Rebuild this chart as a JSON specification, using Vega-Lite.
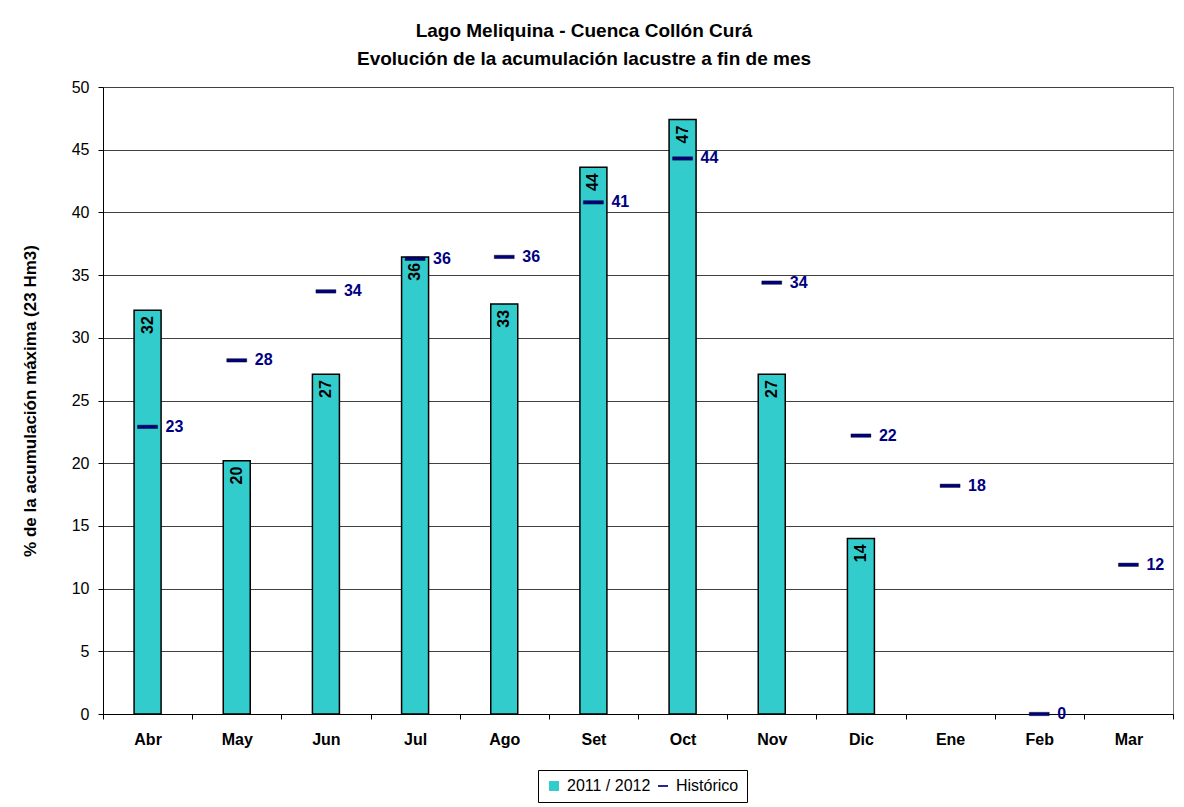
{
  "$schema": "https://vega.github.io/schema/vega-lite/v6.json",
  "width": 1070,
  "height": 627,
  "autosize": {"type": "none"},
  "padding": {"left": 103, "top": 87, "right": 11, "bottom": 93},
  "background": "white",
  "title": {
    "text": ["Lago Meliquina - Cuenca Collón Curá", "Evolución de la acumulación lacustre a fin de mes"],
    "font": "Liberation Sans",
    "fontSize": 19,
    "fontWeight": "bold",
    "color": "black",
    "lineHeight": 28,
    "anchor": "middle",
    "dx": -54,
    "offset": 10
  },
  "config": {
    "view": {"stroke": "#808080", "strokeWidth": 1},
    "font": "Liberation Sans"
  },
  "data": {
    "values": [
      {"mes": "Abr", "serie": "2011 / 2012", "valor": 32.2},
      {"mes": "May", "serie": "2011 / 2012", "valor": 20.2},
      {"mes": "Jun", "serie": "2011 / 2012", "valor": 27.1},
      {"mes": "Jul", "serie": "2011 / 2012", "valor": 36.45},
      {"mes": "Ago", "serie": "2011 / 2012", "valor": 32.7},
      {"mes": "Set", "serie": "2011 / 2012", "valor": 43.6},
      {"mes": "Oct", "serie": "2011 / 2012", "valor": 47.4},
      {"mes": "Nov", "serie": "2011 / 2012", "valor": 27.1},
      {"mes": "Dic", "serie": "2011 / 2012", "valor": 14.0},
      {"mes": "Abr", "serie": "Histórico", "valor": 22.9},
      {"mes": "May", "serie": "Histórico", "valor": 28.2},
      {"mes": "Jun", "serie": "Histórico", "valor": 33.7},
      {"mes": "Jul", "serie": "Histórico", "valor": 36.3},
      {"mes": "Ago", "serie": "Histórico", "valor": 36.45},
      {"mes": "Set", "serie": "Histórico", "valor": 40.8},
      {"mes": "Oct", "serie": "Histórico", "valor": 44.3},
      {"mes": "Nov", "serie": "Histórico", "valor": 34.4},
      {"mes": "Dic", "serie": "Histórico", "valor": 22.2},
      {"mes": "Ene", "serie": "Histórico", "valor": 18.2},
      {"mes": "Feb", "serie": "Histórico", "valor": 0},
      {"mes": "Mar", "serie": "Histórico", "valor": 11.9}
    ]
  },
  "encoding": {
    "x": {
      "field": "mes",
      "type": "nominal",
      "sort": ["Abr", "May", "Jun", "Jul", "Ago", "Set", "Oct", "Nov", "Dic", "Ene", "Feb", "Mar"],
      "scale": {
        "domain": ["Abr", "May", "Jun", "Jul", "Ago", "Set", "Oct", "Nov", "Dic", "Ene", "Feb", "Mar"],
        "paddingInner": 0,
        "paddingOuter": 0
      },
      "axis": {
        "title": null,
        "labelAngle": 0,
        "labelFont": "Liberation Sans",
        "labelFontSize": 16,
        "labelFontWeight": "bold",
        "labelColor": "black",
        "labelPadding": 12,
        "tickBand": "extent",
        "tickSize": 5,
        "tickColor": "black",
        "domainColor": "black",
        "domainWidth": 1,
        "grid": false
      }
    },
    "y": {
      "field": "valor",
      "type": "quantitative",
      "scale": {"domain": [0, 50], "nice": false},
      "axis": {
        "title": "% de la acumulación máxima (23 Hm3)",
        "titleFont": "Liberation Sans",
        "titleFontSize": 17,
        "titleFontWeight": "bold",
        "titleColor": "black",
        "titlePadding": 32,
        "values": [0, 5, 10, 15, 20, 25, 30, 35, 40, 45, 50],
        "labelFont": "Liberation Sans",
        "labelFontSize": 16,
        "labelColor": "black",
        "labelPadding": 9,
        "tickSize": 5,
        "tickColor": "black",
        "domainColor": "black",
        "grid": true,
        "gridColor": "#404040",
        "gridWidth": 1
      }
    }
  },
  "layer": [
    {
      "transform": [{"filter": "datum.serie === '2011 / 2012'"}],
      "mark": {"type": "bar", "width": 27, "stroke": "black", "strokeWidth": 1.5, "opacity": 1},
      "encoding": {
        "color": {
          "field": "serie",
          "type": "nominal",
          "scale": {"domain": ["2011 / 2012", "Histórico"], "range": ["#33CCCC", "#000080"]},
          "legend": {
            "orient": "none",
            "legendX": 435,
            "legendY": 683,
            "direction": "horizontal",
            "title": null,
            "strokeColor": "black",
            "fillColor": "white",
            "padding": 8,
            "labelFont": "Liberation Sans",
            "labelFontSize": 16,
            "labelColor": "black",
            "symbolSize": 100,
            "symbolStrokeColor": "black",
            "symbolStrokeWidth": 1,
            "symbolOpacity": 1,
            "columnPadding": 4,
            "labelOffset": 5
          }
        }
      }
    },
    {
      "transform": [{"filter": "datum.serie === '2011 / 2012'"}],
      "mark": {
        "type": "text",
        "angle": 270,
        "align": "right",
        "baseline": "middle",
        "dx": -6,
        "font": "Liberation Sans",
        "fontSize": 16,
        "fontWeight": "bold",
        "color": "black"
      },
      "encoding": {
        "text": {"field": "valor", "type": "quantitative", "format": ".0f"}
      }
    },
    {
      "transform": [{"filter": "datum.serie === 'Histórico'"}],
      "mark": {"type": "point", "filled": true, "size": 400, "opacity": 1, "stroke": "black", "strokeWidth": 0.4},
      "encoding": {
        "color": {
          "field": "serie",
          "type": "nominal",
          "scale": {"domain": ["2011 / 2012", "Histórico"], "range": ["#33CCCC", "#000080"]},
          "legend": {
            "orient": "none",
            "legendX": 435,
            "legendY": 683,
            "direction": "horizontal",
            "title": null,
            "strokeColor": "black",
            "fillColor": "white",
            "padding": 8,
            "labelFont": "Liberation Sans",
            "labelFontSize": 16,
            "labelColor": "black",
            "symbolSize": 100,
            "symbolStrokeColor": "black",
            "symbolStrokeWidth": 1,
            "symbolOpacity": 1,
            "columnPadding": 4,
            "labelOffset": 5
          }
        },
        "shape": {
          "field": "serie",
          "type": "nominal",
          "scale": {"domain": ["2011 / 2012", "Histórico"], "range": ["square", "M-1,-0.17H1V0.17H-1Z"]},
          "legend": {
            "orient": "none",
            "legendX": 435,
            "legendY": 683,
            "direction": "horizontal",
            "title": null,
            "strokeColor": "black",
            "fillColor": "white",
            "padding": 8,
            "labelFont": "Liberation Sans",
            "labelFontSize": 16,
            "labelColor": "black",
            "symbolSize": 100,
            "symbolStrokeColor": "black",
            "symbolStrokeWidth": 1,
            "symbolOpacity": 1,
            "columnPadding": 4,
            "labelOffset": 5
          }
        }
      }
    },
    {
      "transform": [{"filter": "datum.serie === 'Histórico'"}],
      "mark": {
        "type": "text",
        "align": "left",
        "baseline": "middle",
        "dx": 18,
        "font": "Liberation Sans",
        "fontSize": 16,
        "fontWeight": "bold",
        "color": "#000080"
      },
      "encoding": {
        "text": {"field": "valor", "type": "quantitative", "format": ".0f"}
      }
    }
  ]
}
